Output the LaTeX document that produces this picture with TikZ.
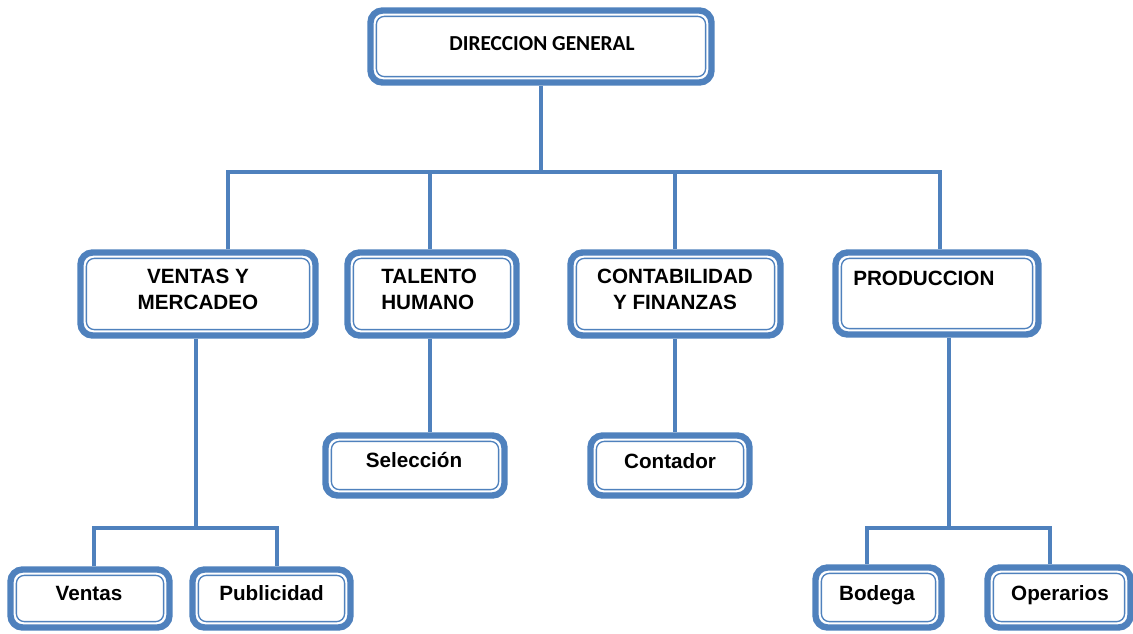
\documentclass[tikz,border=0pt]{standalone}
\usepackage{fontspec}
\setmainfont{Liberation Sans}
\newfontfamily\calibri{Carlito}
\definecolor{obl}{HTML}{4F81BD}
\tikzset{
 orgbox/.style={draw=obl, line width=4.8pt, rounded corners=9pt, fill=white, inner sep=0pt,
   path picture={\draw[obl, line width=1pt, rounded corners=6pt]
     ([shift={(4.4pt,-4.4pt)}]path picture bounding box.north west) rectangle
     ([shift={(-4.4pt,4.4pt)}]path picture bounding box.south east);}},
 conn/.style={draw=obl, line width=3pt, line join=miter},
 lbl/.style={font=\bfseries\fontsize{15.5}{19.5}\selectfont, inner sep=0pt, text=black},
}
\begin{document}
\begin{tikzpicture}[x=0.75pt,y=-0.75pt]
\useasboundingbox (0,0) rectangle (1133,633);
% boxes
\node[orgbox, minimum width=255.75pt, minimum height=54pt] (dir) at (541,46.5) {};
\node[orgbox, minimum width=176.25pt, minimum height=62.25pt] (vm) at (198,294) {};
\node[orgbox, minimum width=126.75pt, minimum height=62.25pt] (th) at (432,294) {};
\node[orgbox, minimum width=157.5pt, minimum height=62.25pt] (cf) at (675.5,294) {};
\node[orgbox, minimum width=152.25pt, minimum height=61.5pt] (prod) at (937,293.5) {};
\node[orgbox, minimum width=134.25pt, minimum height=45pt] (sel) at (415,465.5) {};
\node[orgbox, minimum width=119.25pt, minimum height=45pt] (cont) at (670,465.5) {};
\node[orgbox, minimum width=119.25pt, minimum height=43.5pt] (ven) at (90,598.5) {};
\node[orgbox, minimum width=118.5pt, minimum height=43.5pt] (pub) at (271.5,598.5) {};
\node[orgbox, minimum width=94.5pt, minimum height=45pt] (bod) at (878.5,597.5) {};
\node[orgbox, minimum width=107.25pt, minimum height=45pt] (ope) at (1059,597.5) {};
% junctions
\coordinate (j0) at (541,172);
\coordinate (jL) at (228,172);
\coordinate (jR) at (940,172);
\coordinate (j2) at (430,172);
\coordinate (j3) at (675,172);
\coordinate (m1) at (196,528);
\coordinate (mL) at (94,528);
\coordinate (mR) at (277,528);
\coordinate (p1) at (949,528);
\coordinate (pL) at (867,528);
\coordinate (pR) at (1050,528);
% connectors
\draw[conn] (dir.south) -- (j0);
\draw[conn] (jL |- vm.north) -- (jL) -- (jR) -- (jR |- prod.north);
\draw[conn] (j2) -- (j2 |- th.north);
\draw[conn] (j3) -- (j3 |- cf.north);
\draw[conn] (j2 |- th.south) -- (j2 |- sel.north);
\draw[conn] (j3 |- cf.south) -- (j3 |- cont.north);
\draw[conn] (m1 |- vm.south) -- (m1);
\draw[conn] (mL |- ven.north) -- (mL) -- (mR) -- (mR |- pub.north);
\draw[conn] (p1 |- prod.south) -- (p1);
\draw[conn] (pL |- bod.north) -- (pL) -- (pR) -- (pR |- ope.north);
% labels
\node[lbl, font=\calibri\bfseries\fontsize{16}{19}\selectfont, anchor=base] (tdir) at (542,50) {DIRECCION GENERAL};
\node[lbl, align=center] (tvm) at (198,289) {VENTAS Y\\MERCADEO};
\node[lbl, align=left, anchor=west] (tth) at (381,289) {TALENTO\\HUMANO};
\node[lbl, align=center] (tcf) at (675,289) {CONTABILIDAD\\Y FINANZAS};
\node[lbl, anchor=base west] (tprod) at (853,285) {PRODUCCION};
\node[lbl, anchor=base] (tsel) at (414,467) {Selección};
\node[lbl, anchor=base] (tcont) at (670,468) {Contador};
\node[lbl, anchor=base] (tven) at (89,600) {Ventas};
\node[lbl, anchor=base] (tpub) at (271.5,600) {Publicidad};
\node[lbl, anchor=base] (tbod) at (877,600) {Bodega};
\node[lbl, anchor=base] (tope) at (1060,600) {Operarios};
\end{tikzpicture}
\end{document}
